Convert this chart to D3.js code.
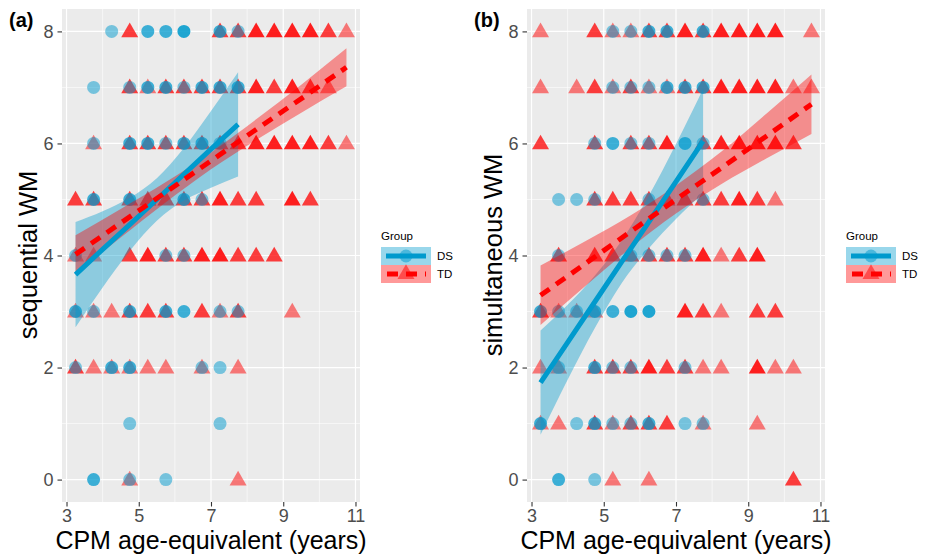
<!DOCTYPE html>
<html>
<head>
<meta charset="utf-8">
<script src="https://cdn.jsdelivr.net/npm/d3@7"></script>
<style>
  body { margin: 0; background: #fff; }
  svg { font-family: "Liberation Sans", Arial, sans-serif; }
</style>
</head>
<body>
<script>
// tick values
const xTicks = [3, 5, 7, 9, 11];
const yTicks = [0, 2, 4, 6, 8];
const groups = ["DS", "TD"];

// points: [age, score, count of children at that spot]
const seqDS = [
  [4.25,8,1],[5.25,8,2],[5.75,8,2],[6.25,8,3],[7.25,8,2],[7.75,8,1],
  [3.75,7,1],[4.75,7,1],[5.25,7,2],[5.75,7,2],[6.25,7,1],[6.75,7,2],[7.25,7,2],[7.75,7,2],
  [3.75,6,1],[4.75,6,2],[5.25,6,2],[5.75,6,1],[6.25,6,2],[6.75,6,2],[7.25,6,1],
  [3.75,5,2],[4.75,5,2],[6.25,5,2],[6.75,5,1],
  [3.25,4,1],[5.75,4,1],[6.25,4,1],
  [3.25,3,2],[3.75,3,1],[4.75,3,2],[5.75,3,2],[6.25,3,2],[7.25,3,1],[7.75,3,1],
  [3.25,2,1],[4.25,2,2],[4.75,2,2],[6.75,2,1],[7.25,2,1],
  [4.75,1,1],[7.25,1,1],
  [3.75,0,2],[4.75,0,1],[5.75,0,1]
];
const seqTD = [
  [4.75,8,2],[7.25,8,2],[7.75,8,2],[8.25,8,3],[8.75,8,3],[9.25,8,3],[9.75,8,3],[10.25,8,2],[10.75,8,1],
  [4.75,7,2],[5.25,7,1],[5.75,7,2],[6.25,7,2],[6.75,7,2],[7.25,7,2],[7.75,7,2],[8.25,7,3],[8.75,7,2],[9.25,7,3],[9.75,7,2],[10.25,7,1],
  [3.75,6,1],[4.75,6,2],[5.25,6,2],[5.75,6,2],[6.25,6,2],[6.75,6,2],[7.25,6,2],[7.75,6,2],[8.25,6,3],[8.75,6,3],[9.25,6,3],[9.75,6,3],[10.25,6,2],[10.75,6,1],
  [3.25,5,2],[3.75,5,2],[4.75,5,2],[5.25,5,2],[5.75,5,2],[6.25,5,2],[6.75,5,2],[7.25,5,3],[7.75,5,2],[8.25,5,2],[9.25,5,3],[9.75,5,2],
  [3.25,4,1],[3.75,4,1],[4.75,4,2],[5.25,4,3],[5.75,4,2],[6.25,4,2],[6.75,4,3],[7.25,4,3],[7.75,4,2],[8.25,4,2],[8.75,4,2],
  [3.25,3,1],[3.75,3,1],[4.25,3,1],[4.75,3,2],[5.25,3,2],[5.75,3,2],[6.75,3,2],[7.25,3,1],[7.75,3,2],[9.25,3,1],
  [3.25,2,2],[3.75,2,1],[4.25,2,1],[4.75,2,1],[5.25,2,1],[5.75,2,1],[6.75,2,1],[7.75,2,1],
  [4.75,0,1],[7.75,0,1]
];
const simDS = [
  [5.25,8,1],[5.75,8,1],[6.25,8,2],[6.75,8,2],[7.75,8,2],
  [5.25,7,1],[5.75,7,1],[6.25,7,1],[6.75,7,2],[7.25,7,2],[7.75,7,2],
  [4.75,6,1],[5.25,6,2],[5.75,6,1],[6.25,6,1],[7.25,6,2],[7.75,6,1],
  [3.75,5,1],[4.25,5,1],[4.75,5,1],[6.25,5,1],[7.75,5,1],
  [3.75,4,1],[5.75,4,1],[6.25,4,1],[6.75,4,1],[7.25,4,1],
  [3.25,3,2],[3.75,3,1],[4.25,3,1],[4.75,3,2],[5.25,3,2],[5.75,3,3],[6.25,3,3],
  [3.75,2,1],[4.75,2,2],[5.25,2,1],[5.75,2,1],[7.25,2,1],
  [3.25,1,2],[4.25,1,1],[4.75,1,2],[5.25,1,1],[5.75,1,1],[6.25,1,2],[7.25,1,1],[7.75,1,1],
  [3.75,0,2],[4.75,0,1]
];
const simTD = [
  [3.25,8,1],[4.75,8,2],[5.25,8,1],[5.75,8,1],[6.25,8,2],[6.75,8,2],[7.25,8,3],[7.75,8,2],[8.25,8,3],[8.75,8,3],[9.25,8,3],[9.75,8,3],[10.75,8,1],
  [3.25,7,1],[4.25,7,1],[4.75,7,2],[5.25,7,1],[5.75,7,2],[6.25,7,1],[6.75,7,1],[7.25,7,2],[7.75,7,2],[8.25,7,3],[8.75,7,3],[9.25,7,3],[9.75,7,3],[10.25,7,1],[10.75,7,1],
  [3.25,6,2],[4.75,6,2],[5.75,6,2],[6.25,6,2],[6.75,6,3],[7.75,6,2],[8.25,6,3],[8.75,6,3],[9.25,6,3],[9.75,6,3],[10.25,6,2],
  [4.75,5,2],[5.25,5,2],[5.75,5,2],[6.25,5,2],[6.75,5,2],[7.25,5,2],[7.75,5,2],[8.25,5,2],[8.75,5,3],[9.25,5,2],[9.75,5,1],
  [3.75,4,2],[4.75,4,2],[5.25,4,2],[5.75,4,2],[6.25,4,2],[6.75,4,2],[7.25,4,2],[7.75,4,3],[8.25,4,1],[8.75,4,2],[9.25,4,3],
  [3.25,3,2],[3.75,3,1],[4.25,3,1],[4.75,3,1],[7.25,3,3],[7.75,3,2],[8.25,3,1],[9.25,3,2],[9.75,3,2],
  [3.25,2,1],[3.75,2,1],[4.75,2,2],[5.25,2,2],[5.75,2,2],[6.25,2,3],[6.75,2,2],[7.25,2,2],[7.75,2,1],[8.25,2,1],[9.25,2,3],[9.75,2,1],[10.25,2,1],
  [3.25,1,1],[3.75,1,1],[4.75,1,2],[5.25,1,1],[5.75,1,2],[6.25,1,2],[6.75,1,2],[7.75,1,1],[9.25,1,1],
  [5.25,0,1],[6.25,0,1],[10.25,0,2]
];

// fitted lines with confidence bands, read at these ages
const dsAges = [3.25, 4, 4.75, 5.5, 6.25, 7, 7.75];
const tdAges = [3.25, 4.5, 5.75, 7, 8.25, 9.5, 10.75];

const seqDSfit = [3.66, 4.11, 4.55, 5.00, 5.45, 5.90, 6.34];
const seqDSlo  = [2.72, 3.43, 4.08, 4.62, 4.98, 5.21, 5.41];
const seqDShi  = [4.60, 4.79, 5.03, 5.38, 5.92, 6.58, 7.27];
const seqTDfit = [4.02, 4.58, 5.13, 5.69, 6.25, 6.80, 7.36];
const seqTDlo  = [3.68, 4.32, 4.95, 5.54, 6.06, 6.55, 7.02];
const seqTDhi  = [4.36, 4.83, 5.31, 5.84, 6.43, 7.05, 7.70];

const simDSfit = [1.73, 2.45, 3.17, 3.89, 4.60, 5.32, 6.04];
const simDSlo  = [0.80, 1.78, 2.70, 3.51, 4.13, 4.65, 5.11];
const simDShi  = [2.66, 3.12, 3.64, 4.27, 5.07, 5.99, 6.97];
const simTDfit = [3.29, 3.86, 4.43, 5.00, 5.56, 6.13, 6.70];
const simTDlo  = [2.76, 3.46, 4.14, 4.75, 5.27, 5.73, 6.17];
const simTDhi  = [3.82, 4.26, 4.72, 5.25, 5.85, 6.53, 7.23];

const blue = "#009ACD", red = "#FF0000";
const W = 926, H = 555;

const svg = d3.select("body").append("svg")
  .attr("width", W).attr("height", H);

function drawPanel(p) {
  const g = svg.append("g");
  const x = d3.scaleLinear().domain([2.875, 11.125]).range([p.left, p.left + 298]);
  const y = d3.scaleLinear().domain([-0.4, 8.4]).range([502, 9]);

  g.append("rect")
    .attr("x", x.range()[0]).attr("y", y.range()[1])
    .attr("width", 298).attr("height", 493)
    .attr("fill", "#EBEBEB");

  // minor grid
  g.selectAll(".mx").data([4, 6, 8, 10]).enter().append("line")
    .attr("x1", d => x(d)).attr("x2", d => x(d)).attr("y1", 9).attr("y2", 502)
    .attr("stroke", "#fff").attr("stroke-width", 0.6);
  g.selectAll(".my").data([1, 3, 5, 7]).enter().append("line")
    .attr("y1", d => y(d)).attr("y2", d => y(d)).attr("x1", x.range()[0]).attr("x2", x.range()[1])
    .attr("stroke", "#fff").attr("stroke-width", 0.6);
  // major grid
  g.selectAll(".gx").data(xTicks).enter().append("line")
    .attr("x1", d => x(d)).attr("x2", d => x(d)).attr("y1", 9).attr("y2", 502)
    .attr("stroke", "#fff").attr("stroke-width", 1.2);
  g.selectAll(".gy").data(yTicks).enter().append("line")
    .attr("y1", d => y(d)).attr("y2", d => y(d)).attr("x1", x.range()[0]).attr("x2", x.range()[1])
    .attr("stroke", "#fff").attr("stroke-width", 1.2);

  // points, triangles first then circles
  const tri = d3.symbol().type(d3.symbolTriangle).size(125);
  g.selectAll(".td").data(p.td).enter().append("path")
    .attr("d", tri)
    .attr("transform", d => "translate(" + x(d[0]) + "," + (y(d[1]) + 1) + ")")
    .attr("fill", red)
    .attr("fill-opacity", d => 1 - Math.pow(0.5, d[2]));
  g.selectAll(".ds").data(p.ds).enter().append("circle")
    .attr("cx", d => x(d[0])).attr("cy", d => y(d[1])).attr("r", 6.5)
    .attr("fill", blue)
    .attr("fill-opacity", d => 1 - Math.pow(0.5, d[2]));

  // bands
  const band = d3.area()
    .x(d => x(d[0])).y0(d => y(d[1])).y1(d => y(d[2]))
    .curve(d3.curveMonotoneX);
  g.append("path")
    .attr("d", band(dsAges.map((a, i) => [a, p.dsLo[i], p.dsHi[i]])))
    .attr("fill", blue).attr("fill-opacity", 0.4);
  g.append("path")
    .attr("d", band(tdAges.map((a, i) => [a, p.tdLo[i], p.tdHi[i]])))
    .attr("fill", red).attr("fill-opacity", 0.4);

  const line = d3.line().x(d => x(d[0])).y(d => y(d[1]));
  g.append("path")
    .attr("d", line(dsAges.map((a, i) => [a, p.dsFit[i]])))
    .attr("fill", "none").attr("stroke", blue).attr("stroke-width", 5);
  g.append("path")
    .attr("d", line(tdAges.map((a, i) => [a, p.tdFit[i]])))
    .attr("fill", "none").attr("stroke", red).attr("stroke-width", 5)
    .attr("stroke-dasharray", "11,8");

  // axes
  const ya = g.append("g").attr("transform", "translate(" + x.range()[0] + ",0)")
    .call(d3.axisLeft(y).tickValues(yTicks).tickSize(4.5).tickPadding(4).tickFormat(d3.format("d")));
  const xa = g.append("g").attr("transform", "translate(0,502)")
    .call(d3.axisBottom(x).tickValues(xTicks).tickSize(4.5).tickPadding(3).tickFormat(d3.format("d")));
  [ya, xa].forEach(a => {
    a.select(".domain").remove();
    a.selectAll(".tick line").attr("stroke", "#333").attr("stroke-width", 1.1);
    a.selectAll(".tick text").attr("fill", "#4D4D4D").style("font-size", "18px");
  });

  g.append("text")
    .attr("x", (x.range()[0] + x.range()[1]) / 2).attr("y", 549)
    .attr("text-anchor", "middle").style("font-size", "25px").attr("fill", "#000")
    .text("CPM age-equivalent (years)");
  g.append("text")
    .attr("transform", "translate(" + p.ytitleX + ",255) rotate(-90)")
    .attr("text-anchor", "middle").style("font-size", "25.5px").attr("fill", "#000")
    .text(p.ytitle);
  g.append("text")
    .attr("x", p.tagX).attr("y", 27)
    .style("font-size", "20px").style("font-weight", "bold")
    .text(p.tag);

  // legend
  const lg = g.append("g").attr("transform", "translate(" + p.legX + ",0)");
  lg.append("text").attr("x", 0).attr("y", 240).style("font-size", "11.5px").text("Group");
  const kw = 50, kh = 18, k0 = 247;
  groups.forEach((grp, i) => {
    const ky = k0 + i * kh;
    lg.append("rect").attr("x", 0).attr("y", ky).attr("width", kw).attr("height", kh)
      .attr("fill", "#fff");
    lg.append("rect").attr("x", 0).attr("y", ky).attr("width", kw).attr("height", kh)
      .attr("fill", i === 0 ? blue : red).attr("fill-opacity", 0.4);
    const ln = lg.append("line").attr("x1", 5).attr("x2", kw - 5)
      .attr("y1", ky + kh / 2).attr("y2", ky + kh / 2)
      .attr("stroke", i === 0 ? blue : red).attr("stroke-width", 5);
    if (i === 0) {
      lg.append("circle").attr("cx", kw / 2).attr("cy", ky + kh / 2).attr("r", 6.5)
        .attr("fill", blue).attr("fill-opacity", 0.5);
    } else {
      ln.attr("stroke-dasharray", "11,8").attr("stroke-dashoffset", -1);
      lg.append("path").attr("d", tri)
        .attr("transform", "translate(" + kw / 2 + "," + (ky + kh / 2) + ")")
        .attr("fill", red).attr("fill-opacity", 0.5);
    }
    lg.append("text").attr("x", kw + 6).attr("y", ky + kh / 2 + 4)
      .style("font-size", "11.5px").text(grp);
  });
}

drawPanel({
  left: 62, tag: "(a)", tagX: 9, ytitle: "sequential WM", ytitleX: 37, legX: 381,
  ds: seqDS, td: seqTD,
  dsFit: seqDSfit, dsLo: seqDSlo, dsHi: seqDShi,
  tdFit: seqTDfit, tdLo: seqTDlo, tdHi: seqTDhi
});
drawPanel({
  left: 527, tag: "(b)", tagX: 474, ytitle: "simultaneous WM", ytitleX: 502, legX: 846,
  ds: simDS, td: simTD,
  dsFit: simDSfit, dsLo: simDSlo, dsHi: simDShi,
  tdFit: simTDfit, tdLo: simTDlo, tdHi: simTDhi
});
</script>
</body>
</html>
